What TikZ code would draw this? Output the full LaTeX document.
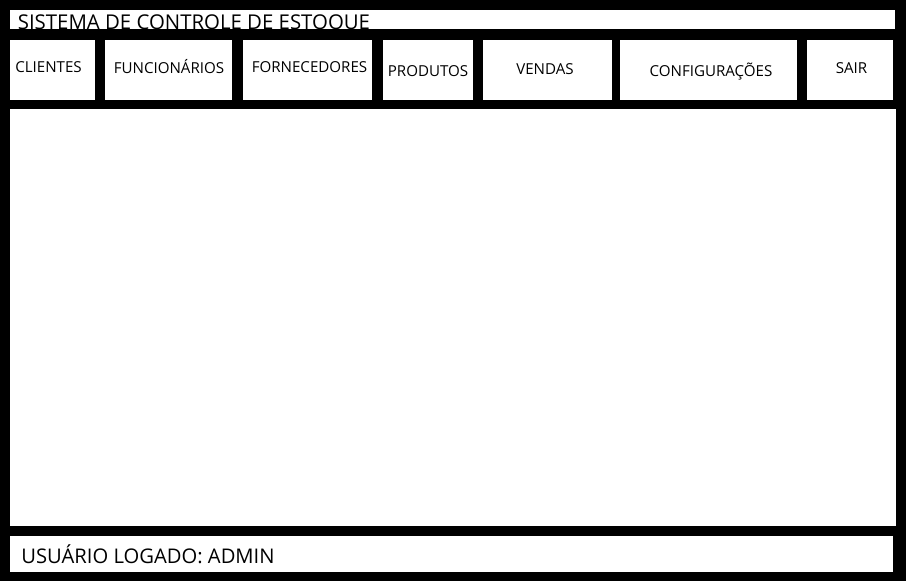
\documentclass[tikz,border=0pt]{standalone}
\usepackage{fontspec}
\setmainfont{Open Sans}
\def\px{0.02cm}
\begin{document}
\begin{tikzpicture}[x=0.02cm,y=-0.02cm]
\tikzstyle{tela}=[fill=white,inner sep=0pt]
\tikzstyle{botao}=[tela,minimum height=60*\px]
\tikzstyle{rotulo}=[inner sep=0pt,anchor=base,font=\fontsize{8.6}{10}\selectfont]
\tikzstyle{texto}=[inner sep=0pt,anchor=base west,font=\fontsize{11.5}{12}\selectfont]
% fundo preto da janela
\fill [black] (0,0) rectangle (906,581);
% barra de titulo
\node [tela,minimum width=885*\px,minimum height=19.5*\px] (titulo) at (452.5,19.75) {};
\node [texto,font=\fontsize{11.6}{12}\selectfont] (titulo-txt) at (17.5,29.6) {SISTEMA DE CONTROLE DE ESTOQUE};
% menu
\node [botao,minimum width=85*\px] (clientes) at (52.5,70) {};
\node [botao,minimum width=127*\px] (funcionarios) at (168.5,70) {};
\node [botao,minimum width=129*\px] (fornecedores) at (307.5,70) {};
\node [botao,minimum width=90*\px] (produtos) at (428,70) {};
\node [botao,minimum width=129*\px] (vendas) at (547.5,70) {};
\node [botao,minimum width=177*\px] (configuracoes) at (708.5,70) {};
\node [botao,minimum width=86*\px] (sair) at (850,70) {};
\node [rotulo] (clientes-txt) at (48.5,73) {CLIENTES};
\node [rotulo] (funcionarios-txt) at (169,74) {FUNCIONÁRIOS};
\node [rotulo] (fornecedores-txt) at (309.5,73) {FORNECEDORES};
\node [rotulo] (produtos-txt) at (428,77) {PRODUTOS};
\node [rotulo] (vendas-txt) at (545,75) {VENDAS};
\node [rotulo] (configuracoes-txt) at (711,77) {CONFIGURAÇÕES};
\node [rotulo] (sair-txt) at (851.5,74) {SAIR};
% area principal
\node [tela,minimum width=886*\px,minimum height=417*\px] (conteudo) at (453,317.5) {};
% rodape
\node [tela,minimum width=883*\px,minimum height=36*\px] (rodape) at (451.5,554) {};
\node [texto] (rodape-txt) at (21,563) {USUÁRIO LOGADO: ADMIN};
\end{tikzpicture}
\end{document}
